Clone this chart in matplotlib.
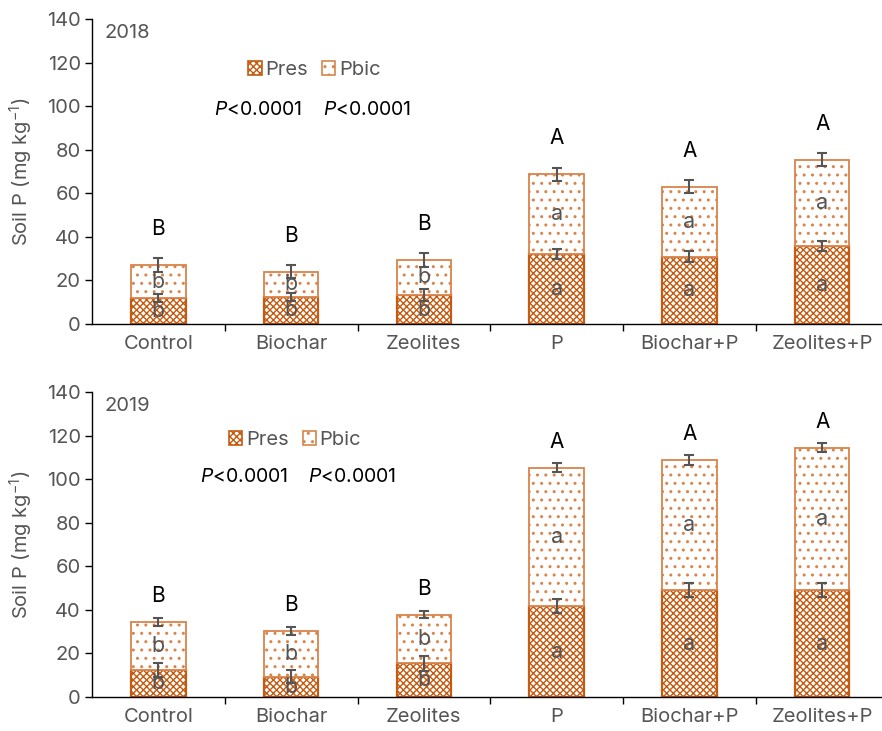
import matplotlib
matplotlib.use("Agg")
import matplotlib.pyplot as plt
from matplotlib.patches import Patch
import numpy as np

FONT = "Inter"
plt.rcParams['font.family'] = [FONT, 'DejaVu Sans']
plt.rcParams['mathtext.fontset'] = 'custom'
plt.rcParams['mathtext.rm'] = FONT
plt.rcParams['mathtext.it'] = FONT + ':italic'
plt.rcParams['hatch.linewidth'] = 1.0

categories = ["Control", "Biochar", "Zeolites", "P", "Biochar+P", "Zeolites+P"]

# 2018
pres_2018 = [11.9, 12.4, 13.3, 32.2, 30.9, 35.9]
total_2018 = [27.0, 24.0, 29.4, 68.7, 63.0, 75.5]
pres_err_2018 = [1.8, 2.0, 2.7, 2.4, 2.5, 2.4]
total_err_2018 = [3.1, 2.9, 3.2, 3.0, 3.0, 3.0]

# 2019
pres_2019 = [12.4, 9.3, 15.4, 41.7, 49.0, 49.0]
total_2019 = [34.5, 30.4, 37.8, 105.2, 108.7, 114.4]
pres_err_2019 = [3.1, 3.0, 3.3, 3.1, 3.2, 3.2]
total_err_2019 = [1.8, 1.9, 1.7, 2.1, 2.3, 2.1]

group_letters = ["B", "B", "B", "A", "A", "A"]
pres_letters = ["b", "b", "b", "a", "a", "a"]
pbic_letters = ["b", "b", "b", "a", "a", "a"]

ORANGE = "#C55A11"
ORANGE_L = "#D9844A"
GREY = "#555555"

fig = plt.figure(figsize=(8.82, 7.31), dpi=100)
ax_top = fig.add_axes([92 / 882, 1 - 324 / 731, 790 / 882, 305 / 731])
ax_bot = fig.add_axes([92 / 882, 1 - 697 / 731, 790 / 882, 305 / 731])

panels = [
    (ax_top, "2018", pres_2018, total_2018, pres_err_2018, total_err_2018, 16.5,
     (0.282, 0.833), (0.155, 0.70)),
    (ax_bot, "2019", pres_2019, total_2019, pres_err_2019, total_err_2019, 12.0,
     (0.257, 0.843), (0.137, 0.72)),
]

x = np.arange(len(categories))
width = 0.41

for ax, year, pres, total, perr, terr, off, leg_pos, ptxt in panels:
    pres = np.array(pres)
    total = np.array(total)
    pbic = total - pres
    ax.bar(x, pres, width, color="white", edgecolor=ORANGE, hatch="xxxxx",
           linewidth=1.6, zorder=2)
    ax.bar(x, pbic, width, bottom=pres, color="white", edgecolor=ORANGE_L,
           hatch="..", linewidth=1.3, zorder=2)
    ax.errorbar(x, pres, yerr=perr, fmt="none", ecolor=GREY, elinewidth=1.5,
                capsize=3.5, capthick=1.5, zorder=3)
    ax.errorbar(x, total, yerr=terr, fmt="none", ecolor=GREY, elinewidth=1.5,
                capsize=3.5, capthick=1.5, zorder=3)
    for i in range(len(categories)):
        ax.text(x[i], pres[i] / 2, pres_letters[i], ha="center", va="center",
                fontsize=15.5, color=GREY, zorder=4)
        ax.text(x[i], pres[i] + pbic[i] / 2, pbic_letters[i], ha="center",
                va="center", fontsize=15.5, color=GREY, zorder=4)
        ax.text(x[i], total[i] + off, group_letters[i], ha="center",
                va="center", fontsize=15, color="black")

    ax.set_xlim(-0.5, 5.45)
    ax.set_ylim(0, 140)
    ax.set_yticks(np.arange(0, 141, 20))
    ax.set_xticks(x)
    ax.set_xticklabels(categories)
    ax.set_xticks(np.arange(0.5, 5.0, 1.0), minor=True)
    ax.tick_params(axis="x", which="major", length=0, pad=8, labelsize=14.5,
                   labelcolor=GREY)
    ax.tick_params(axis="x", which="minor", length=5, width=1, direction="out")
    ax.tick_params(axis="y", length=5, width=1, labelsize=14.5, labelcolor=GREY,
                   pad=3)
    for s in ("top", "right"):
        ax.spines[s].set_visible(False)
    ax.spines["left"].set_linewidth(1.0)
    ax.spines["bottom"].set_linewidth(1.0)
    ax.set_ylabel("Soil P (mg kg$^{-1}$)", fontsize=14.5, color=GREY, labelpad=9)

    ax.text(0.016, 0.953, year, transform=ax.transAxes, fontsize=14.5,
            color=GREY, va="center", ha="left")

    handles = [
        Patch(facecolor="white", edgecolor=ORANGE, hatch="xxxxx", linewidth=1.2,
              label="Pres"),
        Patch(facecolor="white", edgecolor=ORANGE_L, hatch="..", linewidth=1.2,
              label="Pbic"),
    ]
    leg = ax.legend(handles=handles, loc="center", bbox_to_anchor=leg_pos,
                    ncol=2, frameon=False, fontsize=14.5, handlelength=0.65,
                    handleheight=0.65, handletextpad=0.2, columnspacing=0.7,
                    labelcolor=GREY)

    ax.text(ptxt[0], ptxt[1], "$P$<0.0001", transform=ax.transAxes,
            fontsize=14, color="black", ha="left", va="center")
    ax.text(ptxt[0] + 0.137, ptxt[1], "$P$<0.0001", transform=ax.transAxes,
            fontsize=14, color="black", ha="left", va="center")

fig.savefig("out.png", dpi=100)
